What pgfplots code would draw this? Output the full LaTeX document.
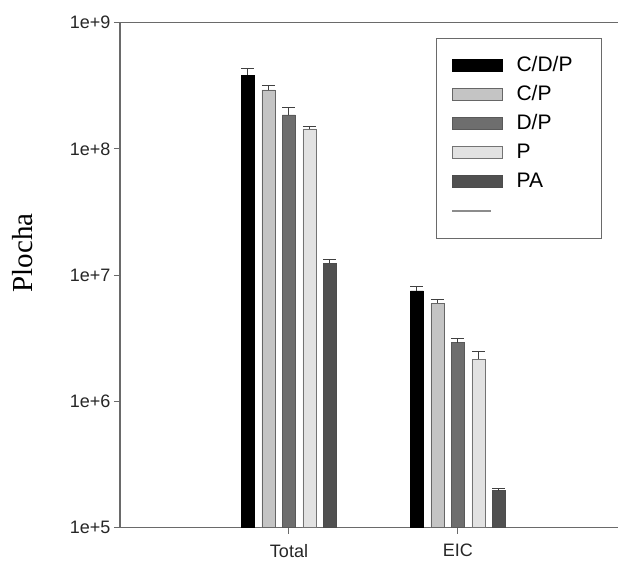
\documentclass[border=0pt]{standalone}
\usepackage{fontspec}
\setmainfont{Liberation Serif}
\setsansfont{Liberation Sans}
\usepackage{pgfplots}
\pgfplotsset{compat=1.18}

\definecolor{axisgray}{HTML}{6A6A6A}
\definecolor{cdp}{HTML}{000000}
\definecolor{cp}{HTML}{C4C4C4}
\definecolor{dp}{HTML}{6E6E6E}
\definecolor{pp}{HTML}{E2E2E2}
\definecolor{pa}{HTML}{505050}

\pgfplotsset{
  barleg/.style={legend image code/.code={\draw[##1,line width=1pt] (0pt,-6pt) rectangle (50pt,6pt);}},
  eb/.style={error bars/.cd, y dir=plus, y explicit,
    error bar style={line width=1pt, draw=black!75},
    error mark options={rotate=90, mark size=6.5pt, line width=1pt, draw=black!75}},
}

\begin{document}
\begin{tikzpicture}
\begin{axis}[
  name=ax,
  width=498pt, height=505pt, scale only axis,
  ymode=log, ymin=1e5, ymax=1e9, log origin y=infty,
  xmin=-1, xmax=1.947,
  ybar=7.5pt, bar width=13pt,
  xtick={0,1}, xticklabels={Total,EIC},
  ytick={1e5,1e6,1e7,1e8,1e9},
  yticklabels={1e+5,1e+6,1e+7,1e+8,1e+9},
  yminorticks=false,
  axis lines*=left,
  axis line style={axisgray, line width=1.2pt, -},
  tick align=outside, major tick length=6pt,
  tick style={axisgray, line width=1pt},
  ticklabel style={font=\sffamily\fontsize{18}{18}\selectfont, text=black!85},
  xticklabel style={yshift=-7pt},
  clip=false,
  ylabel={Plocha},
  every axis y label/.style={at={(axis description cs:-0.195,0.544)}, rotate=90, anchor=center,
    font=\fontsize{29}{29}\selectfont},
  legend style={at={(axis description cs:0.968,0.970)}, anchor=north east,
    draw=axisgray, line width=1pt, font=\sffamily\fontsize{21}{21}\selectfont,
    inner xsep=15pt, inner ysep=13pt, row sep=0pt, column sep=14pt,
    nodes={text height=15pt, text depth=4pt, inner ysep=5pt, inner xsep=0pt, text width=70pt}},
  legend cell align=left,
]
\addplot[fill=cdp, draw=black, barleg, eb] coordinates {(0,3.85e8) +- (0,4.5e7) (1,7.5e6) +- (0,6e5)};
\addlegendentry{C/D/P}
\addplot[fill=cp, draw=black!60, barleg, eb] coordinates {(0,2.94e8) +- (0,2.6e7) (1,5.97e6) +- (0,4.6e5)};
\addlegendentry{C/P}
\addplot[fill=dp, draw=black!65, barleg, eb] coordinates {(0,1.86e8) +- (0,2.8e7) (1,2.92e6) +- (0,2.4e5)};
\addlegendentry{D/P}
\addplot[fill=pp, draw=black!55, barleg, eb] coordinates {(0,1.44e8) +- (0,6e6) (1,2.15e6) +- (0,3.3e5)};
\addlegendentry{P}
\addplot[fill=pa, draw=black!70, barleg, eb] coordinates {(0,1.24e7) +- (0,9e5) (1,1.97e5) +- (0,9e3)};
\addlegendentry{PA}
\addlegendimage{legend image code/.code={\draw[gray!90, line width=2pt] (0pt,0pt) -- (39pt,0pt);}}
\addlegendentry{}
\draw[axisgray, line width=1.2pt] (rel axis cs:0,1) -- (rel axis cs:1,1);
\end{axis}
\pgfresetboundingbox
\path[use as bounding box] ([xshift=-120pt,yshift=-35pt]ax.south west) rectangle ([yshift=22.7pt]ax.north east);
\end{tikzpicture}
\end{document}
